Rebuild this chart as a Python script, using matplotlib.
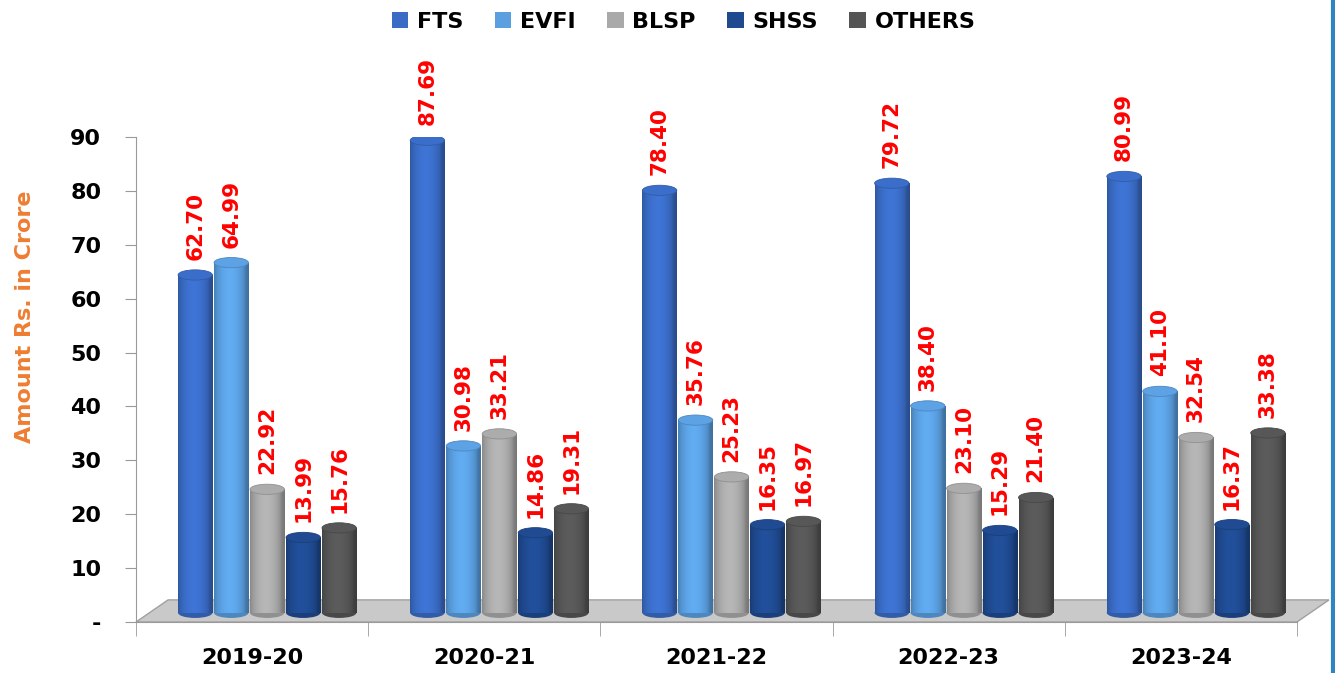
import numpy as np
import matplotlib
matplotlib.use("Agg")
import matplotlib.pyplot as plt
from matplotlib.patches import Ellipse, Polygon, Patch
from matplotlib.colors import to_rgb

categories = ['2019-20', '2020-21', '2021-22', '2022-23', '2023-24']
series_names = ['FTS', 'EVFI', 'BLSP', 'SHSS', 'OTHERS']
fts = [62.70, 87.69, 78.40, 79.72, 80.99]
evfi = [64.99, 30.98, 35.76, 38.40, 41.10]
blsp = [22.92, 33.21, 25.23, 23.10, 32.54]
shss = [13.99, 14.86, 16.35, 15.29, 16.37]
others = [15.76, 19.31, 16.97, 21.40, 33.38]
series_values = [fts, evfi, blsp, shss, others]
y_ticks = [0, 10, 20, 30, 40, 50, 60, 70, 80, 90]
y_ticklabels = ['-', '10', '20', '30', '40', '50', '60', '70', '80', '90']

colors = ['#3A6CC6', '#5A9FE0', '#A9A9A9', '#1F4A90', '#555555']

fig = plt.figure(figsize=(13.35, 6.73), dpi=100)
ax = fig.add_axes([0.1019, 0.0758, 0.8696, 0.7206])
ax.set_xlim(-0.5, 4.5)
ax.set_ylim(0, 90)

# floor (3-D base)
floor_h = 4.1
floor_dx = 0.138
floor = Polygon([(-0.5, 0), (4.5, 0), (4.5 + floor_dx, floor_h), (-0.5 + floor_dx, floor_h)],
                closed=True, facecolor='#C9C9C9', edgecolor='#A0A0A0', lw=1.0,
                zorder=1, clip_on=False)
ax.add_patch(floor)

base = 1.7
bw = 0.148
step = 0.155
shift = 0.065
eh = 1.9

t = np.linspace(0, 1, 64)
shade = 0.80 + 0.28 * np.sin(np.pi * np.clip(t * 1.1, 0, 1)) ** 0.7
shade[-10:] *= np.linspace(1, 0.88, 10)

x = np.arange(len(categories))
for j, (name, vals) in enumerate(zip(series_names, series_values)):
    pos = x + shift + (j - 2) * step
    rgb = np.array(to_rgb(colors[j]))
    grad = np.clip(rgb[None, :] * shade[:, None], 0, 1)[None, :, :]
    bars = ax.bar(pos, vals, width=bw, bottom=base, color='none', edgecolor='none',
                  zorder=3, label=name)
    for b, v in zip(bars, vals):
        x0 = b.get_x()
        xc = x0 + bw / 2
        # bottom rounded end
        ax.add_patch(Ellipse((xc, base), bw, eh, facecolor=rgb * 0.85, edgecolor='none', zorder=2.5))
        im = ax.imshow(grad, extent=[x0, x0 + bw, base, base + v], aspect='auto',
                       zorder=3, interpolation='bilinear')
        im.set_clip_path(b)
        top_rgb = np.clip(rgb * 1.02, 0, 1)
        ax.add_patch(Ellipse((xc, base + v), bw, eh, facecolor=top_rgb,
                             edgecolor=rgb * 0.85, lw=0.6, zorder=4))
        ax.text(xc, base + v + 2.8, f'{v:.2f}', rotation=90, ha='center', va='bottom',
                color='#FF0000', fontsize=15.5, fontweight='bold', zorder=5)

ax.set_xlim(-0.5, 4.5)
ax.set_ylim(0, 90)

# axes styling
for s in ['top', 'right']:
    ax.spines[s].set_visible(False)
ax.spines['left'].set_color('#9A9A9A')
ax.spines['bottom'].set_color('#9A9A9A')
ax.spines['left'].set_bounds(0, 90)
ax.set_yticks(y_ticks)
ax.set_yticklabels(y_ticklabels)
ax.tick_params(axis='y', length=8, color='#9A9A9A', pad=17, labelsize=16)
ax.set_xticks(x)
ax.set_xticklabels(categories)
ax.tick_params(axis='x', length=0, pad=19, labelsize=16)
ax.set_xticks(np.arange(-0.5, 5.0, 1.0), minor=True)
ax.tick_params(axis='x', which='minor', length=10, color='#9A9A9A')
for lab in ax.get_xticklabels() + ax.get_yticklabels():
    lab.set_fontweight('bold')
    lab.set_color('black')

fig.text(0.019, 0.529, 'Amount Rs. in Crore', rotation=90, ha='center', va='center',
         color='#EE7D31', fontsize=16, fontweight='bold')

handles = [Patch(facecolor=c, edgecolor='none') for c in colors]
fig.legend(handles, series_names, loc='upper center', bbox_to_anchor=(0.512, 1.012), ncol=5,
           frameon=False, prop={'weight': 'bold', 'size': 16}, handlelength=0.75,
           handleheight=0.75, handletextpad=0.4, columnspacing=1.4)

# right-hand blue border
fig.add_artist(plt.Line2D([0.9985, 0.9985], [0, 1], transform=fig.transFigure,
                          color='#2E86C1', lw=3))

fig.savefig('out.png', dpi=100)
